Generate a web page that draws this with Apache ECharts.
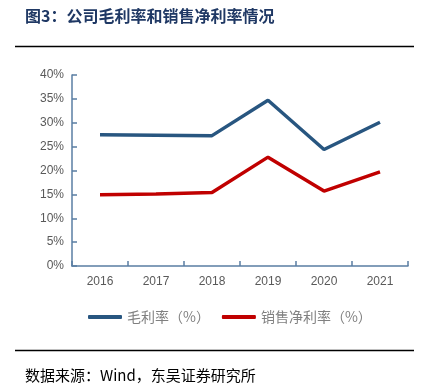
<!DOCTYPE html>
<html><head><meta charset="utf-8">
<script src="https://cdn.jsdelivr.net/npm/echarts@6/dist/echarts.min.js"></script>
<style>html,body{margin:0;padding:0;background:#fff}#c{width:425px;height:392px}</style>
</head><body><div id="c"></div>
<script>
const categories = ['2016','2017','2018','2019','2020','2021'];
const grossMargin = [27.5, 27.4, 27.3, 34.7, 24.4, 30.1];
const netMargin = [14.9, 15.1, 15.4, 22.8, 15.7, 19.7];
const seriesNames = ['毛利率（%）','销售净利率（%）'];
const titleText = '图3：公司毛利率和销售净利率情况';
const sourceText = '数据来源：Wind，东吴证券研究所';

const chart = echarts.init(document.getElementById('c'));
chart.setOption({
  animation: false,
  backgroundColor: '#fff',
  grid: {left: 72, right: 17, top: 75, bottom: 126, containLabel: false},
  legend: {
    bottom: 63, left: 83, itemWidth: 34, itemHeight: 4, itemGap: 12,
    icon: 'roundRect',
    textStyle: {color: '#808080', fontSize: 14, fontFamily: 'Noto Sans CJK SC'},
    data: seriesNames
  },
  xAxis: {
    type: 'category', data: categories, boundaryGap: true,
    axisLine: {lineStyle: {color: '#5a7ea3', width: 1.5}},
    axisTick: {show: true, length: 5, inside: true, lineStyle: {color: '#5a7ea3', width: 1.5}},
    axisLabel: {color: '#595959', fontSize: 12, margin: 10, fontFamily: 'Liberation Sans'}
  },
  yAxis: {
    type: 'value', min: 0, max: 40, interval: 5,
    splitLine: {show: false},
    axisLine: {show: true, lineStyle: {color: '#5a7ea3', width: 1.5}},
    axisTick: {show: true, length: 5, inside: true, lineStyle: {color: '#5a7ea3', width: 1.5}},
    axisLabel: {color: '#595959', fontSize: 12, margin: 8, formatter: '{value}%', fontFamily: 'Liberation Sans'}
  },
  series: [
    {name: seriesNames[0], type: 'line', data: grossMargin, symbol: 'none',
     lineStyle: {color: '#285680', width: 3.5}, itemStyle: {color: '#285680'}},
    {name: seriesNames[1], type: 'line', data: netMargin, symbol: 'none',
     lineStyle: {color: '#c00000', width: 3.5}, itemStyle: {color: '#c00000'}}
  ],
  graphic: [
    {type: 'text', left: 25, top: 8, style: {text: titleText, fill: '#1f3864', font: 'bold 16px "Noto Sans CJK SC"'}},
    {type: 'line', shape: {x1: 15, y1: 46.5, x2: 414, y2: 46.5}, style: {stroke: '#000', lineWidth: 1.5}},
    {type: 'line', shape: {x1: 15, y1: 350.5, x2: 414, y2: 350.5}, style: {stroke: '#000', lineWidth: 1.5}},
    {type: 'text', left: 25, top: 368, style: {text: sourceText, fill: '#000', font: '15px "Noto Sans CJK SC"'}}
  ]
});
</script></body></html>
